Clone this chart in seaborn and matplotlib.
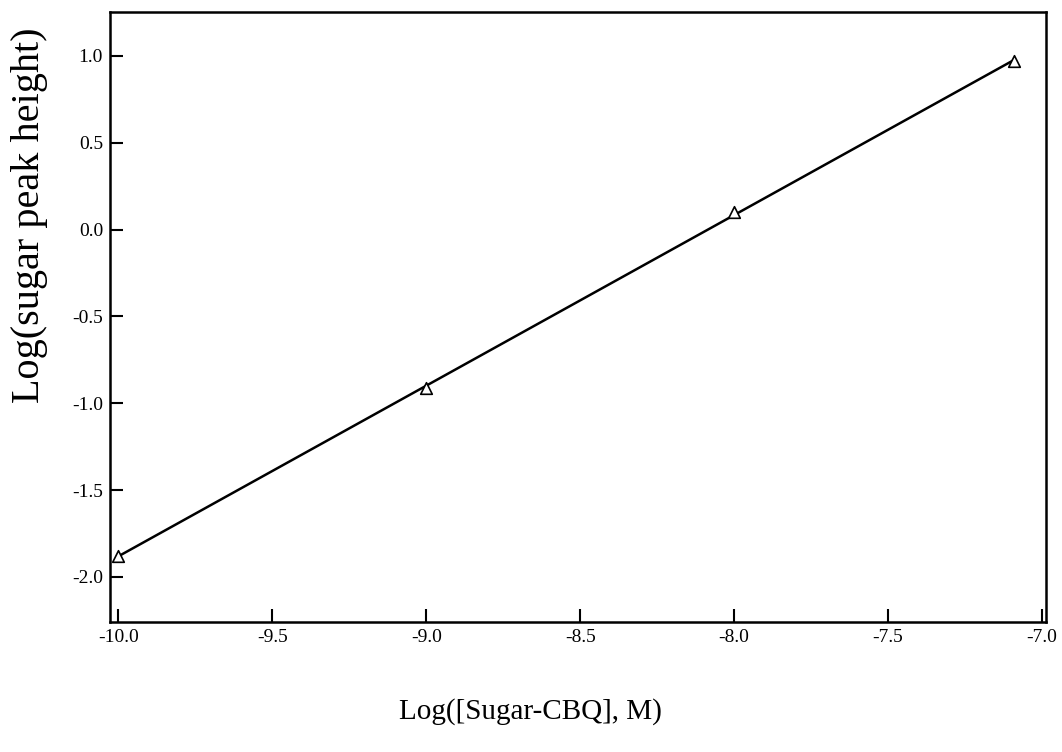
import numpy as np
import pandas as pd
import matplotlib
matplotlib.use("Agg")
import matplotlib.pyplot as plt
import seaborn as sns

# Data
log_conc = [-10.0, -9.0, -8.0, -7.09]
log_peak = [-1.88, -0.91, 0.10, 0.97]
x_ticks = [-10.0, -9.5, -9.0, -8.5, -8.0, -7.5, -7.0]
y_ticks = [-2.0, -1.5, -1.0, -0.5, 0.0, 0.5, 1.0]

sns.set_style("ticks")
plt.rcParams['font.family'] = ['Liberation Serif', 'DejaVu Serif']
plt.rcParams['text.color'] = 'black'

df = pd.DataFrame({"x": log_conc, "y": log_peak})
slope, intercept = np.polyfit(df["x"], df["y"], 1)
fit = pd.DataFrame({"x": [min(log_conc), max(log_conc)]})
fit["y"] = slope * fit["x"] + intercept

fig = plt.figure(figsize=(10.62, 7.52), dpi=100)
ax = fig.add_axes([110/1062, 1 - 622/752, (1046-110)/1062, (622-12)/752])

sns.lineplot(data=fit, x="x", y="y", ax=ax, color="black", linewidth=1.8)
sns.scatterplot(data=df, x="x", y="y", ax=ax, marker="^", s=70,
                facecolor="white", edgecolor="black", linewidth=1.2, zorder=3)

ax.set_xlim(-10.027, -6.987)
ax.set_ylim(-2.26, 1.253)
ax.set_xticks(x_ticks)
ax.set_yticks(y_ticks)
ax.set_xticklabels([f"{v:.1f}" for v in x_ticks])
ax.set_yticklabels([f"{v:.1f}" for v in y_ticks])
ax.tick_params(axis="both", direction="in", length=9.5, width=1.5,
               labelsize=14, colors="black", labelcolor="black", pad=5)
for s in ax.spines.values():
    s.set_visible(True)
    s.set_linewidth(1.8)
    s.set_color("black")
ax.set_xlabel("")
ax.set_ylabel("")

fig.text(530/1062, 1 - 712/752, "Log([Sugar-CBQ], M)", ha="center", va="center",
         fontsize=21, color="black")
fig.text(30/1062, 1 - 215/752, "Log(sugar peak height)", ha="center", va="center",
         rotation=90, fontsize=29, color="black")

fig.savefig("out.png", dpi=100, facecolor="white")
